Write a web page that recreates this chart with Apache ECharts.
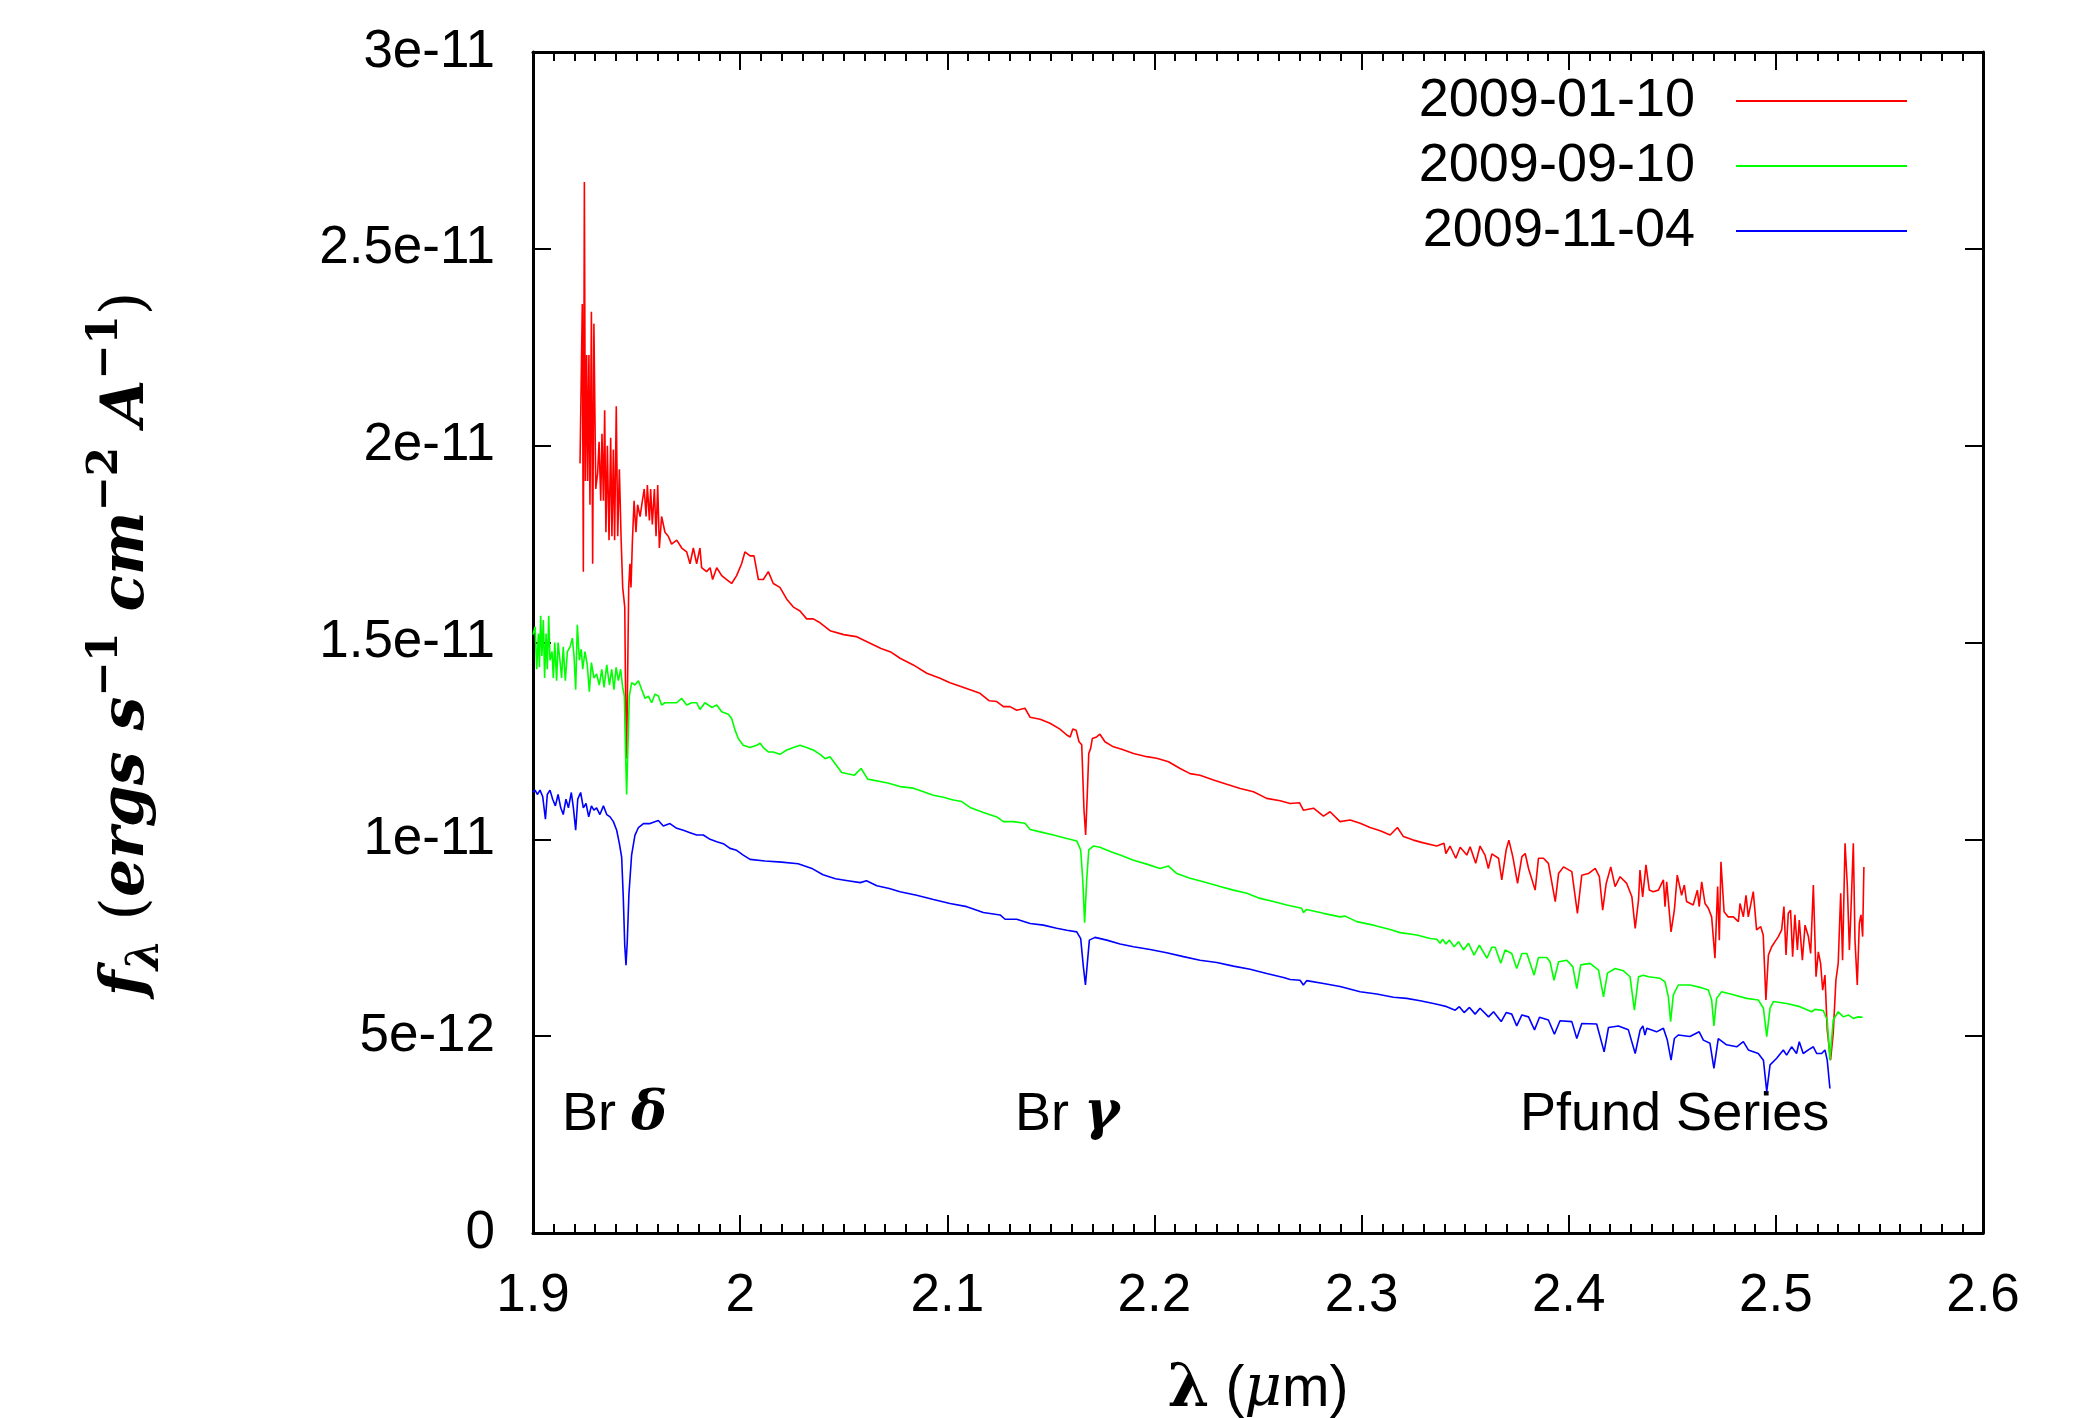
<!DOCTYPE html>
<html>
<head>
<meta charset="utf-8">
<script src="https://cdn.jsdelivr.net/npm/echarts@6/dist/echarts.min.js"></script>
<style>html,body{margin:0;padding:0;background:#fff}#c{width:2094px;height:1418px}</style>
</head>
<body>
<div id="c"></div>
<script>
// wavelength (micron), flux (units of 1e-12 ergs s^-1 cm^-2 A^-1)
const seriesNames = ['2009-01-10', '2009-09-10', '2009-11-04'];
const xTickLabels = ['1.9','2','2.1','2.2','2.3','2.4','2.5','2.6'];
const yTickLabels = ['0','5e-12','1e-11','1.5e-11','2e-11','2.5e-11','3e-11'];

const red = [[1.9227,19.55],[1.9238,23.6],[1.9243,16.8],[1.9248,26.7],[1.9253,19.1],[1.9259,22.3],[1.9264,19.1],[1.9270,22.3],[1.9275,18.5],[1.9282,23.4],[1.9288,17.0],[1.9294,23.1],[1.9303,18.9],[1.9312,19.3],[1.9319,20.1],[1.9327,18.6],[1.9333,20.3],[1.9340,18.6],[1.9346,20.9],[1.9352,17.8],[1.9359,20.0],[1.9367,17.6],[1.9375,20.2],[1.9381,17.7],[1.9388,19.9],[1.9394,17.6],[1.9402,21.0],[1.9409,17.7],[1.9417,19.4],[1.9425,17.7],[1.9433,16.4],[1.9443,15.9],[1.9447,13.6],[1.9452,12.05],[1.9457,14.2],[1.9462,16.4],[1.9468,17.0],[1.9473,16.4],[1.9480,17.6],[1.9488,18.6],[1.9497,17.8],[1.9505,18.5],[1.9517,18.2],[1.9528,18.6],[1.9537,18.9],[1.9546,18.2],[1.9552,19.0],[1.9562,18.1],[1.9568,18.9],[1.9576,18.0],[1.9586,18.9],[1.9594,17.7],[1.9602,19.0],[1.9610,17.4],[1.9621,18.2],[1.9637,17.8],[1.9653,17.7],[1.9669,17.5],[1.9694,17.6],[1.9718,17.4],[1.9742,17.3],[1.9758,17.0],[1.9774,17.4],[1.9790,17.0],[1.9806,17.4],[1.9814,16.9],[1.9838,16.8],[1.9855,16.9],[1.9867,16.6],[1.9887,16.9],[1.9911,16.7],[1.9935,16.6],[1.9959,16.5],[1.9983,16.7],[2.0007,17.0],[2.0023,17.3],[2.0048,17.2],[2.0067,17.2],[2.0088,16.6],[2.0112,16.6],[2.0136,16.8],[2.0160,16.5],[2.0192,16.4],[2.0225,16.1],[2.0257,15.9],[2.0289,15.8],[2.0321,15.6],[2.0353,15.6],[2.0386,15.5],[2.0434,15.3],[2.050,15.2],[2.056,15.15],[2.062,15.0],[2.068,14.85],[2.073,14.75],
[2.0772,14.6],[2.0836,14.43],[2.0901,14.22],[2.0965,14.09],[2.1013,13.98],[2.1062,13.89],[2.1110,13.8],[2.1158,13.71],[2.1203,13.52],[2.1239,13.5],[2.1271,13.37],[2.1303,13.37],[2.1335,13.28],[2.1375,13.33],[2.1400,13.1],[2.1448,13.05],[2.1496,12.95],[2.1544,12.8],[2.1577,12.65],[2.1593,12.6],[2.1606,12.8],[2.1622,12.77],[2.1636,12.48],[2.1649,12.4],[2.1660,10.74],[2.1668,10.11],[2.1676,11.17],[2.1683,12.18],[2.1692,12.31],[2.1700,12.56],[2.1721,12.6],[2.1737,12.67],[2.1761,12.48],[2.1802,12.35],[2.1842,12.29],[2.1899,12.18],[2.1963,12.1],[2.2011,12.06],[2.2068,11.97],[2.2124,11.8],[2.2172,11.67],[2.2220,11.63],[2.2285,11.51],[2.2349,11.4],[2.2414,11.29],[2.2478,11.21],[2.2542,11.04],[2.2607,10.98],[2.2655,10.91],
[2.2700,10.93],[2.2719,10.74],[2.2768,10.79],[2.2816,10.59],[2.2848,10.7],[2.2896,10.45],[2.2945,10.49],[2.2993,10.41],[2.3041,10.3],[2.3090,10.22],[2.3138,10.11],[2.3173,10.3],[2.3202,10.07],[2.3250,9.98],[2.3299,9.91],[2.3363,9.83],[2.3398,9.9],[2.3407,9.64],[2.3427,9.83],[2.3455,9.52],[2.3476,9.8],[2.3508,9.6],[2.3524,9.81],[2.3551,9.39],[2.3572,9.83],[2.3596,9.6],[2.3612,9.26],[2.3629,9.63],[2.3661,9.52],[2.3677,8.97],[2.3698,9.73],[2.3711,9.98],[2.3730,9.56],[2.3753,8.88],[2.3774,9.56],[2.3790,9.64],[2.3806,9.26],[2.3838,8.71],[2.3854,9.52],[2.3878,9.52],[2.3902,9.39],[2.3935,8.42],[2.3951,9.13],[2.3975,9.3],[2.4015,9.18],[2.4042,8.12],[2.4063,9.09],[2.4095,9.13],[2.4128,9.26],[2.4148,9.05],[2.4164,8.2],[2.4181,8.88],[2.4203,9.3],[2.4224,8.8],[2.4248,9.05],[2.4280,8.88],[2.4305,8.54],[2.4321,7.74],[2.4337,8.46],
[2.4344,9.22],[2.4357,8.54],[2.4373,9.35],[2.4389,8.71],[2.4408,8.67],[2.4433,8.71],[2.4457,8.97],[2.4465,8.29],[2.4473,8.92],[2.4494,7.65],[2.4510,8.2],[2.4524,9.09],[2.4545,8.58],[2.4558,8.84],[2.4569,8.42],[2.4601,8.33],[2.4621,8.71],[2.4630,8.29],[2.4642,8.92],[2.4658,8.37],[2.4674,8.25],[2.4690,8.03],[2.4706,6.98],[2.4719,8.8],[2.4727,7.44],[2.4735,9.43],[2.4750,8.16],[2.4770,8.03],[2.4795,8.03],[2.4819,7.91],[2.4827,8.37],[2.4843,8.03],[2.4856,8.58],[2.4867,8.03],[2.4891,8.67],[2.4907,7.7],[2.4927,7.78],[2.4939,7.57],[2.4952,5.92],[2.4964,7.06],[2.4980,7.27],[2.4996,7.4],[2.5012,7.53],[2.5028,7.7],[2.5039,8.29],[2.5049,7.06],[2.5060,8.12],[2.5071,8.2],[2.5081,7.02],[2.5092,8.08],[2.5104,7.19],[2.5113,7.95],[2.5128,6.93],[2.5141,7.82],[2.5157,7.53],[2.5168,7.1],[2.5181,8.84],[2.5194,6.51],[2.5205,7.14],[2.5216,6.85],[2.5226,6.17],[2.5237,6.55],[2.5248,5.16],[2.5264,4.39],[2.5277,5.07],[2.5290,6.43],[2.5301,6.85],[2.5313,8.63],[2.5322,6.93],[2.5334,9.9],[2.5345,8.84],[2.5355,7.19],[2.5361,7.95],[2.5374,9.9],[2.5382,7.44],[2.5393,6.3],[2.5403,7.87],[2.5411,8.08],[2.5419,7.53],[2.5425,9.3]];

const green = [[1.9000,15.2],[1.9010,15.4],[1.9018,14.32],[1.9026,15.23],[1.9031,14.37],[1.9037,15.68],[1.9043,14.66],[1.9050,15.57],[1.9056,14.1],[1.9063,15.23],[1.9069,14.32],[1.9076,15.68],[1.9082,14.55],[1.9092,14.77],[1.9098,14.1],[1.9105,15.0],[1.9114,14.03],[1.9121,15.0],[1.9130,14.55],[1.9138,14.1],[1.9146,14.89],[1.9156,14.03],[1.9166,14.77],[1.9179,14.89],[1.9190,15.11],[1.9198,14.66],[1.9206,13.8],[1.9214,15.45],[1.9224,14.55],[1.9233,14.83],[1.9240,14.32],[1.9251,14.77],[1.9262,14.43],[1.9272,13.75],[1.9282,14.49],[1.9294,14.1],[1.9307,14.2],[1.9320,13.92],[1.9332,14.32],[1.9343,13.86],[1.9356,14.43],[1.9369,13.92],[1.9380,14.32],[1.9391,13.8],[1.9401,14.37],[1.9412,14.03],[1.9423,14.32],[1.9433,13.86],[1.9441,13.64],[1.9447,12.16],[1.9452,11.14],[1.9459,12.5],[1.9465,13.64],[1.9476,13.98],[1.9492,13.92],[1.9509,14.03],[1.9525,13.8],[1.9541,13.58],[1.9557,13.64],[1.9573,13.47],[1.9589,13.69],[1.9605,13.64],[1.9621,13.41],[1.9637,13.47],[1.9661,13.47],[1.9694,13.47],[1.9718,13.58],[1.9742,13.41],[1.9766,13.47],[1.9790,13.47],[1.9806,13.3],[1.9830,13.47],[1.9863,13.35],[1.9887,13.41],[1.9911,13.24],[1.9943,13.18],[1.9959,13.07],[1.9975,12.78],[1.9991,12.56],[2.0015,12.39],[2.0048,12.33],[2.0080,12.39],[2.0096,12.44],[2.0112,12.33],[2.0136,12.22],[2.0160,12.22],[2.0192,12.16],[2.0225,12.27],[2.0257,12.33],[2.0289,12.39],[2.0321,12.33],[2.0353,12.27],[2.0386,12.16],[2.0410,12.05],[2.0434,12.1],[2.049,11.7],[2.0552,11.63],[2.0584,11.8],[2.0616,11.53],[2.0713,11.43],
[2.0772,11.34],[2.0836,11.3],[2.0885,11.21],[2.0933,11.12],[2.0981,11.07],[2.1029,11.0],[2.1070,10.96],[2.1110,10.81],[2.1174,10.68],[2.1239,10.57],[2.1271,10.45],[2.1319,10.45],[2.1375,10.41],[2.1400,10.25],[2.1448,10.19],[2.1512,10.11],[2.1577,10.02],[2.1625,9.96],[2.1644,9.73],[2.1654,8.97],[2.1663,7.88],[2.1673,8.97],[2.1683,9.73],[2.1705,9.83],[2.1737,9.8],[2.1786,9.69],[2.1834,9.6],[2.1899,9.47],[2.1963,9.37],[2.2027,9.26],[2.2068,9.32],[2.2108,9.13],[2.2172,9.01],[2.2236,8.92],[2.2317,8.8],[2.2381,8.71],[2.2446,8.63],[2.2510,8.5],[2.2574,8.42],[2.2639,8.33],
[2.2711,8.25],[2.2719,8.14],[2.2735,8.22],[2.2816,8.12],[2.2896,8.03],[2.2921,8.05],[2.2977,7.91],[2.3057,7.82],[2.3138,7.71],[2.3186,7.63],[2.3267,7.57],[2.3331,7.48],[2.3363,7.46],[2.3379,7.36],[2.3392,7.46],[2.3407,7.34],[2.3424,7.44],[2.3447,7.27],[2.3468,7.4],[2.3492,7.19],[2.3516,7.36],[2.3543,7.06],[2.3569,7.31],[2.3605,6.98],[2.3629,7.26],[2.3645,7.26],[2.3672,6.85],[2.3693,7.19],[2.3725,7.1],[2.3749,6.72],[2.3774,7.1],[2.3798,7.1],[2.3833,6.55],[2.3854,7.0],[2.3894,7.0],[2.3910,6.89],[2.3929,6.42],[2.3951,6.89],[2.3991,6.93],[2.4020,6.76],[2.4039,6.21],[2.4058,6.81],[2.4103,6.85],[2.4144,6.68],[2.4168,6.0],[2.4187,6.6],[2.4224,6.72],[2.4264,6.66],[2.4296,6.51],[2.4317,5.66],[2.4337,6.51],[2.4361,6.55],[2.4385,6.51],
[2.4441,6.47],[2.4465,6.38],[2.4481,6.0],[2.4492,5.37],[2.4505,6.05],[2.4529,6.3],[2.4585,6.3],[2.4634,6.24],[2.4674,6.17],[2.4690,5.92],[2.4701,5.26],[2.4714,5.96],[2.4738,6.13],[2.4795,6.05],[2.4859,5.96],[2.4915,5.92],[2.4940,5.71],[2.4956,4.99],[2.4972,5.71],[2.4988,5.88],[2.5052,5.83],[2.5116,5.75],[2.5173,5.62],[2.5189,5.68],[2.5229,5.65],[2.5248,5.41],[2.5261,4.39],[2.5277,5.41],[2.5301,5.62],[2.5326,5.49],[2.5350,5.54],[2.5374,5.45],[2.5398,5.49],[2.5419,5.48]];

const blue = [[1.9000,11.2],[1.9010,11.25],[1.9021,11.14],[1.9034,11.25],[1.9047,11.08],[1.9060,10.51],[1.9069,11.14],[1.9082,11.25],[1.9095,11.02],[1.9108,10.85],[1.9121,11.14],[1.9134,10.8],[1.9146,10.63],[1.9159,11.02],[1.9171,10.8],[1.9185,11.19],[1.9195,10.8],[1.9206,10.23],[1.9216,11.02],[1.9230,11.19],[1.9243,10.8],[1.9256,10.91],[1.9269,10.57],[1.9282,10.85],[1.9294,10.74],[1.9307,10.8],[1.9323,10.63],[1.9340,10.85],[1.9356,10.63],[1.9372,10.57],[1.9388,10.45],[1.9404,10.23],[1.9417,9.89],[1.9428,9.55],[1.9436,8.5],[1.9443,7.3],[1.9449,6.8],[1.9455,7.4],[1.9463,8.6],[1.9476,9.6],[1.9492,10.1],[1.9509,10.3],[1.9533,10.4],[1.9565,10.4],[1.9605,10.48],[1.9629,10.34],[1.9661,10.4],[1.9694,10.28],[1.9726,10.23],[1.9758,10.17],[1.9790,10.11],[1.9822,10.11],[1.9855,10.0],[1.9887,9.94],[1.9919,9.89],[1.9951,9.77],[1.9983,9.72],[2.0015,9.6],[2.0048,9.49],[2.012,9.45],[2.020,9.42],[2.028,9.38],[2.035,9.25],[2.040,9.1],[2.046,9.0],[2.052,8.95],[2.058,8.9],[2.061,8.95],[2.066,8.82],[2.072,8.75],
[2.0772,8.67],[2.0852,8.58],[2.0933,8.47],[2.1013,8.37],[2.1094,8.29],[2.1174,8.14],[2.1255,8.08],[2.1279,7.97],[2.1335,7.97],[2.1400,7.86],[2.1464,7.82],[2.1528,7.74],[2.1577,7.69],[2.1625,7.65],[2.1644,7.48],[2.1657,6.76],[2.1667,6.3],[2.1676,6.85],[2.1686,7.44],[2.1713,7.51],[2.1770,7.44],[2.1834,7.34],[2.1899,7.27],[2.1979,7.2],[2.2059,7.12],[2.2140,7.02],[2.2220,6.93],[2.2301,6.87],[2.2381,6.78],[2.2462,6.7],[2.2542,6.59],[2.2623,6.49],
[2.2655,6.44],[2.2703,6.42],[2.2719,6.3],[2.2735,6.41],[2.2816,6.34],[2.2896,6.26],[2.2993,6.13],[2.3073,6.07],[2.3154,5.99],[2.3218,5.96],[2.3283,5.9],[2.3347,5.83],[2.3379,5.79],[2.3411,5.75],[2.3452,5.66],[2.3472,5.75],[2.3495,5.6],[2.3521,5.73],[2.3548,5.56],[2.3572,5.71],[2.3613,5.49],[2.3637,5.62],[2.3674,5.37],[2.3698,5.6],[2.3725,5.56],[2.3749,5.26],[2.3774,5.54],[2.3806,5.49],[2.3835,5.16],[2.3859,5.48],[2.3902,5.41],[2.3931,5.05],[2.3958,5.39],[2.4015,5.37],[2.4039,4.94],[2.4063,5.32],[2.4135,5.31],[2.4171,4.6],[2.4192,5.22],[2.4240,5.26],[2.4288,5.16],[2.4321,4.56],[2.4345,5.16],[2.4358,5.26],[2.4368,5.03],[2.4377,5.2],
[2.4424,5.11],[2.4457,5.2],[2.4476,4.9],[2.4494,4.39],[2.4510,4.94],[2.4529,5.03],[2.4585,4.99],[2.4630,5.11],[2.4650,4.9],[2.4682,4.82],[2.4701,4.18],[2.4722,4.94],[2.4762,4.78],[2.4811,4.73],[2.4843,4.86],[2.4867,4.65],[2.4915,4.56],[2.4940,4.39],[2.4956,3.59],[2.4972,4.27],[2.5004,4.44],[2.5036,4.65],[2.5052,4.52],[2.5076,4.73],[2.5100,4.56],[2.5113,4.86],[2.5132,4.56],[2.5157,4.65],[2.5181,4.73],[2.5197,4.56],[2.5221,4.56],[2.5237,4.65],[2.5248,4.39],[2.5261,3.67]];

const colors = ['#ff0000', '#00ff00', '#0000ff'];

const chart = echarts.init(document.getElementById('c'), null, {renderer: 'canvas'});

function axisCommon(isX, pos, showLabel) {
  const a = {
    type: 'value',
    position: pos,
    min: isX ? 1.9 : 0,
    max: isX ? 2.6 : 30,
    interval: isX ? 0.1 : 5,
    axisLine: {show: true, onZero: false, lineStyle: {color: '#000', width: 3}},
    axisTick: {show: true, inside: true, length: 18, lineStyle: {color: '#000', width: 2}},
    splitLine: {show: false},
    axisLabel: {
      show: showLabel,
      fontSize: 53,
      fontFamily: 'Liberation Sans',
      color: '#000',
      margin: isX ? 37 : 38,
      formatter: function (v) {
        return isX ? xTickLabels[Math.round((v - 1.9) / 0.1)] : yTickLabels[Math.round(v / 5)];
      }
    }
  };
  if (isX) a.minorTick = {show: true, splitNumber: 10, length: 9, lineStyle: {color: '#000', width: 2}};
  return a;
}

const serif = 'DejaVu Serif';
const option = {
  animation: false,
  backgroundColor: '#ffffff',
  grid: {left: 533, right: 111, top: 52, bottom: 185, containLabel: false},
  xAxis: [axisCommon(true, 'bottom', true), axisCommon(true, 'top', false)],
  yAxis: [axisCommon(false, 'left', true), axisCommon(false, 'right', false)],
  legend: {
    orient: 'vertical',
    right: 182,
    top: 69,
    align: 'right',
    icon: 'rect',
    itemWidth: 171,
    itemHeight: 2,
    itemGap: 11,
    data: seriesNames,
    textStyle: {fontSize: 54, fontFamily: 'Liberation Sans', color: '#000', lineHeight: 53, padding: [0, 36, 0, 0]}
  },
  series: [red, green, blue].map(function (d, i) {
    return {
      name: seriesNames[i],
      type: 'line',
      data: d,
      xAxisIndex: 0,
      yAxisIndex: 0,
      showSymbol: false,
      symbol: 'none',
      smooth: false,
      sampling: null,
      clip: true,
      color: colors[i],
      lineStyle: {color: colors[i], width: 1.6},
      z: 2 + i
    };
  }),
  graphic: [
    {
      type: 'text', x: 127, y: 644, rotation: Math.PI / 2,
      style: {
        text: '{m|f}{sub|λ}{n| (}{m|ergs s}{sup|−1}{m| cm}{sup|−2}{m| A}{sup|−1}{n|)}',
        textAlign: 'center', textVerticalAlign: 'middle', fill: '#000',
        rich: {
          m: {fontFamily: serif, fontStyle: 'italic', fontWeight: 'bold', fontSize: 60, lineHeight: 84, fill: '#000'},
          n: {fontFamily: serif, fontSize: 60, lineHeight: 84, fill: '#000'},
          sub: {fontFamily: serif, fontStyle: 'italic', fontWeight: 'bold', fontSize: 44, lineHeight: 56, verticalAlign: 'bottom', fill: '#000'},
          sup: {fontFamily: serif, fontWeight: 'bold', fontSize: 42, lineHeight: 44, verticalAlign: 'top', fill: '#000'}
        }
      }
    },
    {
      type: 'text', x: 1258, y: 1390,
      style: {
        text: '{b|λ}{n| (}{i|μ}{n|m)}',
        textAlign: 'center', textVerticalAlign: 'middle', fill: '#000',
        rich: {
          b: {fontFamily: serif, fontWeight: 'bold', fontSize: 60, fill: '#000'},
          i: {fontFamily: serif, fontStyle: 'italic', fontSize: 58, fill: '#000'},
          n: {fontFamily: 'Liberation Sans', fontSize: 57, fill: '#000'}
        }
      }
    },
    {
      type: 'text', x: 562, y: 1115,
      style: {
        text: '{n|Br }{g|δ}', textAlign: 'left', textVerticalAlign: 'middle', fill: '#000',
        rich: {
          n: {fontFamily: 'Liberation Sans', fontSize: 54, fill: '#000'},
          g: {fontFamily: serif, fontStyle: 'italic', fontWeight: 'bold', fontSize: 54, fill: '#000'}
        }
      }
    },
    {
      type: 'text', x: 1015, y: 1115,
      style: {
        text: '{n|Br }{g|γ}', textAlign: 'left', textVerticalAlign: 'middle', fill: '#000',
        rich: {
          n: {fontFamily: 'Liberation Sans', fontSize: 54, fill: '#000'},
          g: {fontFamily: serif, fontStyle: 'italic', fontWeight: 'bold', fontSize: 54, fill: '#000'}
        }
      }
    },
    {
      type: 'text', x: 1520, y: 1115,
      style: {text: 'Pfund Series', textAlign: 'left', textVerticalAlign: 'middle', fill: '#000', fontFamily: 'Liberation Sans', fontSize: 54}
    }
  ]
};
chart.setOption(option);
</script>
</body>
</html>
